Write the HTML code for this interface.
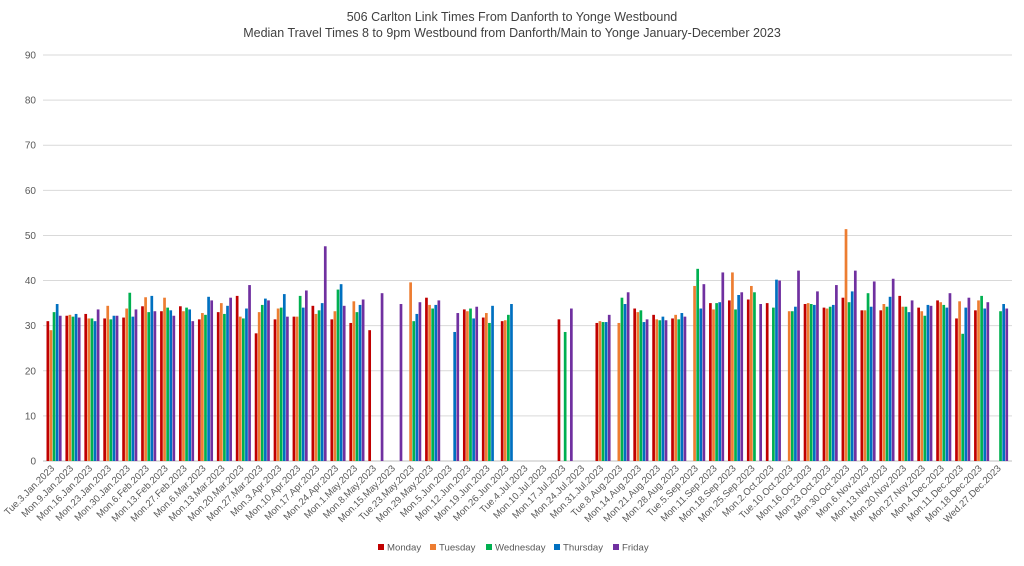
<!DOCTYPE html>
<html><head><meta charset="utf-8"><style>
body{margin:0;background:#fff;font-family:"Liberation Sans",Arial,sans-serif}
svg text{font-family:"Liberation Sans",Arial,sans-serif}
</style></head><body>
<svg id="chart" width="1024" height="561" xmlns="http://www.w3.org/2000/svg">
<text x="512" y="21" text-anchor="middle" font-size="12.5" fill="#404040">506 Carlton Link Times From Danforth to Yonge Westbound</text>
<text x="512" y="37" text-anchor="middle" font-size="12.5" fill="#404040">Median Travel Times 8 to 9pm Westbound from Danforth/Main to Yonge January-December 2023</text>
<g id="grid"></g><g id="bars"></g><g id="xlabels"></g><g id="legend"></g>
</svg>
<script>
const categories=["Tue.3.Jan.2023","Mon.9.Jan.2023","Mon.16.Jan.2023","Mon.23.Jan.2023","Mon.30.Jan.2023","Mon.6.Feb.2023","Mon.13.Feb.2023","Mon.27.Feb.2023","Mon.6.Mar.2023","Mon.13.Mar.2023","Mon.20.Mar.2023","Mon.27.Mar.2023","Mon.3.Apr.2023","Mon.10.Apr.2023","Mon.17.Apr.2023","Mon.24.Apr.2023","Mon.1.May.2023","Mon.8.May.2023","Mon.15.May.2023","Tue.23.May.2023","Mon.29.May.2023","Mon.5.Jun.2023","Mon.12.Jun.2023","Mon.19.Jun.2023","Mon.26.Jun.2023","Tue.4.Jul.2023","Mon.10.Jul.2023","Mon.17.Jul.2023","Mon.24.Jul.2023","Mon.31.Jul.2023","Tue.8.Aug.2023","Mon.14.Aug.2023","Mon.21.Aug.2023","Mon.28.Aug.2023","Tue.5.Sep.2023","Mon.11.Sep.2023","Mon.18.Sep.2023","Mon.25.Sep.2023","Mon.2.Oct.2023","Tue.10.Oct.2023","Mon.16.Oct.2023","Mon.23.Oct.2023","Mon.30.Oct.2023","Mon.6.Nov.2023","Mon.13.Nov.2023","Mon.20.Nov.2023","Mon.27.Nov.2023","Mon.4.Dec.2023","Mon.11.Dec.2023","Mon.18.Dec.2023","Wed.27.Dec.2023"];
const seriesNames=["Monday","Tuesday","Wednesday","Thursday","Friday"];
const seriesColors=["#C00000","#ED7D31","#00B050","#0070C0","#7030A0"];
const yTicks=[0,10,20,30,40,50,60,70,80,90];
const N=null;
const monday=[31,32.2,32.6,31.6,31.8,34.3,33.2,34.3,31.4,33,36.6,28.3,31.4,32,34.4,31.4,30.6,29,N,N,36.2,N,33.6,31.8,31,N,N,31.4,N,30.6,N,33.8,32.4,31.6,N,35,35.6,35.8,35,N,34.8,34,36.2,33.4,33.4,36.6,34,35.6,31.6,33.4,N];
const tuesday=[29,32.4,31.6,34.4,33.8,36.3,36.2,33.2,32.8,35,32,33,33.8,32,32.6,33.2,35.4,N,N,39.6,34.6,N,33.2,32.8,31.2,N,N,N,N,31,30.6,33,31.4,32.4,38.8,33.6,41.8,38.8,N,33.2,35,33.8,51.4,33.4,34.8,34.2,33.2,35.2,35.4,35.6,N];
const wednesday=[33,32,31.6,31.4,37.3,33,34,34,32.4,32.6,31.6,34.6,34,36.6,33.4,38,33,N,N,31,33.8,N,33.8,30.6,32.4,N,N,28.6,N,30.8,36.2,33.4,31.2,31.4,42.6,35,33.6,37.4,34,33.2,34.8,34.2,35.2,37.2,34.2,34.2,32.2,34.6,28.2,36.6,33.2];
const thursday=[34.8,32.6,31,32.2,32,36.6,33.4,33.6,36.4,34.4,33.8,36,37,34,35,39.2,34.6,N,N,32.6,34.6,28.6,31.6,34.4,34.8,N,N,N,N,30.8,34.8,30.8,32,32.8,33.8,35.2,36.8,N,40.2,34.2,34.6,34.6,37.6,34.2,36.4,33,34.6,34,34,33.8,34.8];
const friday=[32.2,31.8,33.6,32.2,33.6,33.2,32.2,31,35.6,36.2,39,35.6,32,37.8,47.6,34.4,35.8,37.2,34.8,35.2,35.6,32.8,34.2,N,N,N,N,33.8,N,32.4,37.4,31.4,31.2,32,39.2,41.8,37.4,34.8,40,42.2,37.6,39,42.2,39.8,40.4,35.6,34.4,37.2,36.2,35.2,33.8];
const series=[monday,tuesday,wednesday,thursday,friday];
const NS="http://www.w3.org/2000/svg";
const X0=48,STEP=18.93,Y0=461,Y90=55,LEFT=43,RIGHT=1012;
function y(v){return Y0-(v/90)*(Y0-Y90);}
function groupX(i){return X0+i*STEP;}
function mk(t,a,p){const e=document.createElementNS(NS,t);for(const k in a)e.setAttribute(k,a[k]);p.appendChild(e);return e;}
const grid=document.getElementById('grid');
yTicks.forEach(t=>{
  const l=mk('line',{x1:LEFT,x2:RIGHT,y1:y(t),y2:y(t),stroke:t===0?'#bfbfbf':'#d9d9d9','stroke-width':1},grid);
  
  
  const tx=mk('text',{x:36,y:y(t)+3.5,'text-anchor':'end','font-size':10,fill:'#595959'},grid);
  tx.textContent=t;
  
  
});
const bars=document.getElementById('bars');
const BW=2.7,BS=3.1;
series.forEach((s,si)=>{
  s.forEach((v,i)=>{
    if(v===null)return;
    const x=groupX(i)-1.5+si*BS;
    const r=mk('rect',{x:x,y:y(v),width:BW,height:Y0-y(v),fill:seriesColors[si]},bars);
    
    
  });
});
const xl=document.getElementById('xlabels');
categories.forEach((c,i)=>{
  const x=groupX(i)+7,yy=469;
  const t=mk('text',{x:x,y:yy,'text-anchor':'end','font-size':9.6,fill:'#595959',transform:`rotate(-45 ${x} ${yy})`},xl);
  t.textContent=c;
  
  
});
const lg=document.getElementById('legend');
const lx=[378,430,486,554,613];
seriesNames.forEach((n,i)=>{
  const g=mk('g',{},lg);
  
  
  mk('rect',{x:lx[i],y:544,width:6,height:6,fill:seriesColors[i]},g);
  const t=mk('text',{x:lx[i]+9,y:550.5,'font-size':9.6,fill:'#595959'},g);
  t.textContent=n;
});
</script>
</body></html>
